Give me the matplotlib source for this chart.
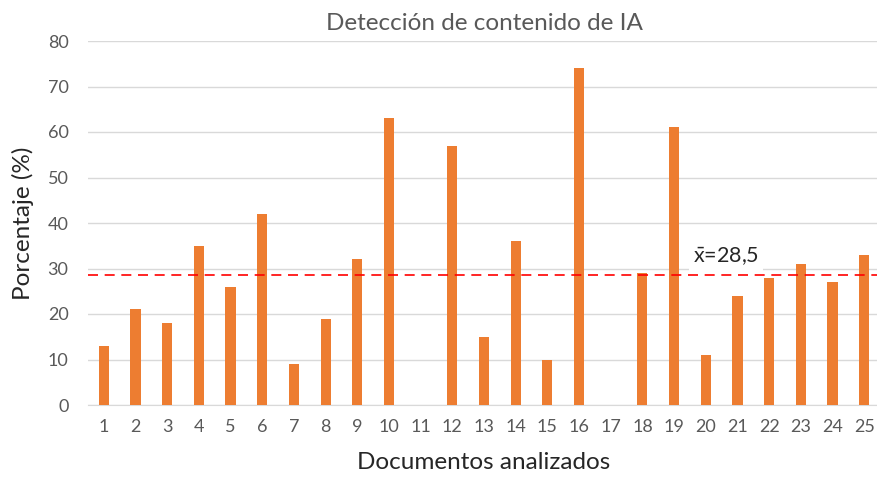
import matplotlib.pyplot as plt
import numpy as np

plt.rcParams['font.family'] = ['Lato', 'DejaVu Sans']
plt.rcParams['mathtext.fontset'] = 'custom'
plt.rcParams['mathtext.rm'] = 'Lato'

# Porcentaje de contenido de IA por documento
documentos = [str(i) for i in range(1, 26)]
porcentaje = [13, 21, 18, 35, 26, 42, 9, 19, 32, 63, 0, 57, 15, 36, 10,
              74, 0, 29, 61, 11, 24, 28, 31, 27, 33]
media = 28.5
media_txt = r"$\bar{\mathrm{x}}$=28,5"

BAR = "#ED7D31"
GRID = "#D9D9D9"
TICK = "#595959"

fig = plt.figure(figsize=(8.78, 4.79), dpi=100)
ax = fig.add_axes([88 / 878, 1 - 405 / 479, 792 / 878, 364 / 479])

x = np.arange(len(documentos))
ax.bar(x, porcentaje, width=0.32, color=BAR, zorder=3)
ax.axhline(media, color="red", linestyle=(0, (6, 4)), linewidth=1.2, zorder=4)
ax.text(18.6, 32.8, media_txt, fontsize=15.5, color="#262626",
        ha="left", va="center", zorder=2,
        bbox=dict(facecolor="white", edgecolor="none", pad=3))

ax.set_xlim(-0.5, len(documentos) - 0.5)
ax.set_ylim(0, 80)
ax.set_yticks(range(0, 81, 10))
ax.set_xticks(x)
ax.set_xticklabels(documentos)
ax.grid(axis="y", color=GRID, linewidth=1, zorder=0)
for side in ("top", "right", "left"):
    ax.spines[side].set_visible(False)
ax.spines["bottom"].set_color(GRID)
ax.tick_params(length=0, labelsize=13, labelcolor=TICK)
ax.tick_params(axis="y", pad=14)
ax.tick_params(axis="x", pad=10)

ax.set_title("Detección de contenido de IA", fontsize=17.5, color=TICK, pad=8)
ax.set_xlabel("Documentos analizados", fontsize=17.5, color="#262626", labelpad=12)
ax.set_ylabel("Porcentaje (%)", fontsize=17.5, color="#262626", labelpad=10)

fig.savefig("out.png", dpi=100)
